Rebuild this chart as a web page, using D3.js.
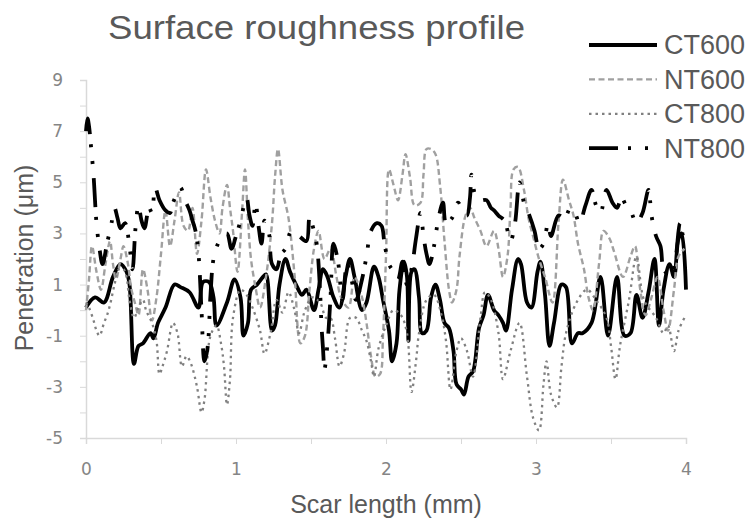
<!DOCTYPE html>
<html>
<head>
<meta charset="utf-8">
<script src="https://cdn.jsdelivr.net/npm/d3@7/dist/d3.min.js"></script>
<style>
  body { margin: 0; background: #fff; }
  text { font-family: "Liberation Sans", Arial, sans-serif; }
  .tick text { font-family: "DejaVu Sans", Verdana, sans-serif; }
</style>
</head>
<body>
<div id="chart"></div>
<script>
// [scar length (mm), penetration (um)]
var ct600 = [[0.00,0.1],[0.06,0.5],[0.12,0.3],[0.18,1.3],[0.23,1.8],[0.27,1.5],[0.29,1.0],[0.32,-2.1],[0.35,-1.4],
  [0.38,-1.3],[0.43,-0.9],[0.45,-1.1],[0.48,-0.5],[0.53,0.1],[0.59,1.0],[0.63,0.9],[0.69,0.7],[0.75,0.1],[0.78,1.1],
  [0.82,1.1],[0.85,0.5],[0.87,-0.6],[0.94,0.3],[0.99,1.2],[1.03,0.5],[1.05,-1.0],[1.08,-0.5],[1.10,0.8],[1.14,1.0],
  [1.18,1.3],[1.20,1.4],[1.24,-0.8],[1.26,-0.6],[1.29,1.0],[1.33,2.0],[1.36,1.5],[1.40,1.0],[1.44,0.6],[1.47,0.8],
  [1.52,0.0],[1.55,0.8],[1.58,1.6],[1.61,1.3],[1.65,0.5],[1.69,0.1],[1.73,1.3],[1.76,2.0],[1.79,1.3],[1.84,0.0],
  [1.87,0.3],[1.92,1.7],[1.95,1.3],[1.98,0.4],[2.02,-0.8],[2.04,-2.0],[2.07,-1.3],[2.09,0.8],[2.12,1.9],[2.14,1.3],
  [2.15,-1.2],[2.17,1.5],[2.19,1.6],[2.22,0.5],[2.24,-0.9],[2.27,-0.8],[2.30,0.5],[2.33,1.0],[2.36,0.4],[2.39,-0.5],
  [2.42,-0.7],[2.45,-1.6],[2.47,-2.9],[2.50,-3.1],[2.52,-3.3],[2.55,-2.6],[2.58,-2.4],[2.62,-0.7],[2.65,-0.2],
  [2.68,0.6],[2.72,0.0],[2.75,-0.2],[2.78,-0.5],[2.80,-0.8],[2.84,0.8],[2.88,2.0],[2.90,1.8],[2.94,0.3],[2.97,0.1],
  [3.01,1.5],[3.03,1.9],[3.06,0.6],[3.09,-1.4],[3.12,-0.5],[3.17,1.0],[3.20,0.9],[3.24,-1.3],[3.28,-0.9],[3.31,-0.9],
  [3.37,-0.5],[3.43,1.3],[3.48,-1.0],[3.54,1.3],[3.59,-1.0],[3.63,-0.9],[3.67,0.6],[3.71,-0.3],[3.75,0.7],[3.79,2.0],
  [3.82,-0.6],[3.85,0.8],[3.89,1.8],[3.92,1.3],[3.95,2.8],[3.97,3.0],[4.00,0.8]];

var nt600 = [[0.00,0.0],[0.02,1.2],[0.04,2.5],[0.07,1.5],[0.10,0.8],[0.13,1.8],[0.16,2.7],[0.18,1.8],[0.20,1.2],
  [0.23,2.0],[0.25,2.5],[0.28,1.8],[0.30,0.9],[0.33,0.2],[0.35,-0.2],[0.38,1.6],[0.41,0.8],[0.44,-0.4],[0.47,0.5],
  [0.50,2.2],[0.53,3.9],[0.56,2.5],[0.59,3.5],[0.62,4.6],[0.65,3.3],[0.68,3.1],[0.71,4.0],[0.74,2.2],[0.77,3.5],
  [0.80,5.5],[0.83,4.4],[0.86,3.5],[0.89,3.0],[0.91,4.0],[0.94,4.9],[0.96,4.0],[0.98,3.1],[1.01,1.5],[1.04,3.8],
  [1.06,5.5],[1.08,3.5],[1.10,2.0],[1.13,0.9],[1.16,0.1],[1.20,1.3],[1.24,3.4],[1.26,5.2],[1.28,6.3],[1.31,4.7],
  [1.35,3.6],[1.39,1.4],[1.43,-1.3],[1.46,-1.0],[1.49,0.8],[1.52,2.4],[1.55,3.1],[1.59,2.0],[1.63,2.4],[1.67,1.3],
  [1.70,0.5],[1.75,0.1],[1.79,1.3],[1.84,0.5],[1.87,-0.5],[1.90,-1.8],[1.93,-2.6],[1.96,-2.5],[1.98,-1.0],[2.00,2.1],
  [2.02,5.5],[2.05,4.9],[2.08,4.3],[2.11,5.3],[2.13,6.1],[2.16,5.2],[2.19,4.1],[2.23,4.2],[2.25,5.3],[2.27,6.3],
  [2.30,6.3],[2.33,6.1],[2.36,4.9],[2.39,2.7],[2.42,0.8],[2.44,0.3],[2.47,0.8],[2.49,2.1],[2.53,3.7],[2.56,4.0],
  [2.59,3.6],[2.63,3.1],[2.67,2.5],[2.72,3.1],[2.75,2.4],[2.78,1.3],[2.81,2.1],[2.83,4.0],[2.85,5.5],[2.88,5.6],
  [2.92,4.7],[2.95,3.6],[2.98,2.9],[3.02,2.0],[3.06,1.3],[3.11,0.3],[3.15,3.4],[3.18,5.1],[3.22,4.3],[3.25,3.7],
  [3.28,2.6],[3.32,1.6],[3.35,0.5],[3.38,0.0],[3.42,1.8],[3.45,3.1],[3.49,2.8],[3.52,2.3],[3.58,1.3],[3.63,2.1],
  [3.66,2.5],[3.69,1.0],[3.73,-0.2],[3.77,0.5],[3.81,1.3],[3.85,0.0],[3.88,-0.8],[3.92,0.8],[3.95,2.1],[3.99,2.4]];

var ct800 = [[0.00,0.3],[0.02,0.1],[0.05,-0.4],[0.07,-0.8],[0.09,-1.0],[0.12,-0.5],[0.14,-0.2],[0.16,0.2],[0.19,1.0],
  [0.22,1.6],[0.25,1.6],[0.27,1.3],[0.29,0.4],[0.32,-0.3],[0.35,0.1],[0.38,0.4],[0.40,0.0],[0.44,-0.5],[0.47,-1.2],
  [0.49,-2.5],[0.51,-2.2],[0.54,-1.6],[0.58,-0.5],[0.61,-0.9],[0.64,-2.2],[0.67,-1.8],[0.70,-2.1],[0.74,-3.0],
  [0.77,-4.0],[0.79,-3.5],[0.83,-1.0],[0.87,-0.6],[0.90,-1.3],[0.92,-2.2],[0.94,-3.7],[0.96,-2.7],[0.98,-0.3],
  [1.03,0.8],[1.07,0.6],[1.11,0.1],[1.16,-0.8],[1.19,-1.7],[1.23,-0.9],[1.27,0.4],[1.31,-0.1],[1.35,0.7],[1.39,0.0],
  [1.42,-0.9],[1.46,0.0],[1.51,0.5],[1.56,0.3],[1.60,-0.3],[1.63,-0.3],[1.66,-1.1],[1.69,-2.2],[1.72,-1.7],
  [1.76,-0.3],[1.80,-0.3],[1.84,-0.8],[1.87,-1.2],[1.90,-2.0],[1.92,-2.6],[1.95,-1.5],[2.00,-0.6],[2.05,0.0],
  [2.10,-0.2],[2.14,-0.9],[2.17,-3.2],[2.20,-2.0],[2.22,-0.9],[2.27,0.4],[2.32,0.6],[2.37,-0.2],[2.40,-1.2],
  [2.43,-3.1],[2.47,-1.6],[2.50,-1.1],[2.54,-1.6],[2.58,-2.6],[2.63,-0.3],[2.66,0.7],[2.70,0.4],[2.75,-0.9],
  [2.78,-2.7],[2.83,-1.6],[2.89,-0.5],[2.94,-2.6],[2.98,-4.2],[3.02,-4.7],[3.05,-2.9],[3.07,-2.0],[3.10,-3.3],
  [3.14,-3.8],[3.17,-2.2],[3.20,-0.9],[3.27,0.3],[3.34,0.8],[3.40,0.4],[3.47,-0.3],[3.50,-1.4],[3.53,-2.7],
  [3.56,-1.4],[3.62,0.4],[3.67,2.1],[3.72,0.4],[3.80,-0.3],[3.85,-0.9],[3.88,-0.6],[3.92,-1.6],[3.95,-0.8],[3.99,-0.3]];

var nt800 = [[0.00,7.0],[0.01,7.5],[0.02,7.2],[0.035,6.3],[0.05,5.3],[0.06,4.3],[0.07,3.4],[0.09,2.4],[0.11,1.8],
  [0.14,2.6],[0.17,3.4],[0.19,4.0],[0.21,3.6],[0.23,3.2],[0.26,3.4],[0.29,2.5],[0.31,1.6],[0.33,3.2],[0.35,4.1],
  [0.37,3.5],[0.39,3.2],[0.42,4.0],[0.44,3.8],[0.46,4.8],[0.49,4.3],[0.53,3.9],[0.56,3.8],[0.58,4.2],[0.61,4.6],
  [0.63,4.8],[0.66,4.3],[0.69,3.9],[0.71,3.5],[0.73,3.1],[0.75,2.2],[0.77,0.0],[0.79,-2.0],[0.81,-1.5],[0.83,0.6],
  [0.85,2.0],[0.88,2.6],[0.91,2.9],[0.94,3.0],[0.97,2.4],[1.00,2.9],[1.03,3.5],[1.07,4.4],[1.09,3.7],[1.11,3.3],
  [1.13,4.2],[1.15,3.3],[1.17,2.6],[1.19,3.5],[1.22,3.0],[1.24,1.8],[1.27,1.6],[1.30,2.2],[1.33,2.4],[1.37,3.1],
  [1.42,2.9],[1.47,2.7],[1.49,3.6],[1.52,3.1],[1.54,2.5],[1.56,0.8],[1.57,-0.6],[1.58,-1.5],[1.59,-2.3],[1.61,-1.3],
  [1.63,0.5],[1.65,2.6],[1.68,1.9],[1.71,0.4],[1.74,1.8],[1.77,1.2],[1.80,0.4],[1.84,1.2],[1.87,2.1],[1.90,3.1],
  [1.94,3.4],[1.97,3.3],[1.99,2.6],[2.02,1.8],[2.05,1.5],[2.08,1.2],[2.11,1.9],[2.14,1.0],[2.17,1.6],[2.20,2.8],
  [2.23,3.8],[2.25,2.9],[2.27,2.2],[2.29,1.8],[2.32,2.5],[2.35,3.6],[2.38,4.2],[2.40,3.4],[2.44,3.6],[2.48,4.2],
  [2.52,3.8],[2.54,3.7],[2.56,4.4],[2.57,5.3],[2.59,4.6],[2.62,4.3],[2.67,4.3],[2.70,4.0],[2.72,3.9],[2.75,3.7],
  [2.79,3.5],[2.83,2.7],[2.86,3.4],[2.89,5.0],[2.92,4.2],[2.95,3.8],[2.99,3.1],[3.02,2.4],[3.05,2.6],[3.08,3.4],
  [3.10,2.9],[3.15,3.7],[3.19,3.6],[3.23,4.0],[3.26,3.8],[3.29,3.4],[3.33,4.1],[3.37,4.7],[3.40,4.1],[3.43,3.8],
  [3.47,4.7],[3.51,4.2],[3.54,4.0],[3.57,4.4],[3.60,4.1],[3.63,3.9],[3.67,3.4],[3.71,3.8],[3.75,4.7],[3.77,3.7],
  [3.80,2.9],[3.83,2.5],[3.85,1.6],[3.88,1.4],[3.90,1.3],[3.93,2.0],[3.96,3.4],[3.98,2.9],[4.00,2.5]];

var seriesNames = ["CT600", "NT600", "CT800", "NT800"];
var xTicks = [0, 0.5, 1, 1.5, 2, 2.5, 3, 3.5, 4];
var yTicks = [-5, -4, -3, -2, -1, 0, 1, 2, 3, 4, 5, 6, 7, 8, 9];

// line look for each series, same order as seriesNames
var styles = [
  {color: "#000", width: 3.8, dash: null},
  {color: "#a0a0a0", width: 2.4, dash: "6,3.5"},
  {color: "#808080", width: 2.3, dash: "2.5,4"},
  {color: "#000", width: 3.8, dash: "29,10,3,14,3,14"}
];
var allData = [ct600, nt600, ct800, nt800];

var W = 752, H = 524;
var svg = d3.select("#chart").append("svg")
    .attr("width", W)
    .attr("height", H);

var x = d3.scaleLinear().domain([0, 4]).range([86, 686]);
var y = d3.scaleLinear().domain([-5, 9]).range([438, 80]);

// axes
svg.append("g")
    .attr("transform", "translate(0," + y(-5) + ")")
    .call(d3.axisBottom(x).tickValues(xTicks).tickSize(6).tickPadding(19)
      .tickFormat(function(d) { return d % 1 === 0 ? d : ""; }));

svg.append("g")
    .attr("transform", "translate(" + x(0) + ",0)")
    .call(d3.axisLeft(y).tickValues(yTicks).tickSize(6).tickPadding(17)
      .tickFormat(function(d) { return Math.abs(d % 2) === 1 ? d : ""; }));

svg.selectAll(".domain").attr("stroke", "#d9d9d9").attr("stroke-width", 1.5);
svg.selectAll(".tick line").attr("stroke", "#d9d9d9").attr("stroke-width", 1);
svg.selectAll(".tick text").attr("fill", "#858585").attr("font-size", 17);

// series lines
var line = d3.line()
    .x(function(d) { return x(d[0]); })
    .y(function(d) { return y(d[1]); })
    .curve(d3.curveCatmullRom.alpha(0.5));

allData.forEach(function(data, i) {
  svg.append("path")
      .datum(data)
      .attr("d", line)
      .attr("fill", "none")
      .attr("stroke", styles[i].color)
      .attr("stroke-width", styles[i].width)
      .attr("stroke-dasharray", styles[i].dash)
      .attr("stroke-linejoin", "round");
});

// title
svg.append("text")
    .text("Surface roughness profile")
    .attr("x", 108)
    .attr("y", 39)
    .attr("font-size", 33)
    .attr("textLength", 417)
    .attr("lengthAdjust", "spacingAndGlyphs")
    .attr("fill", "#595959");

// axis titles
svg.append("text")
    .text("Scar length (mm)")
    .attr("x", 386)
    .attr("y", 513)
    .attr("text-anchor", "middle")
    .attr("font-size", 25)
    .attr("fill", "#595959");

svg.append("text")
    .text("Penetration (\u03bcm)")
    .attr("transform", "translate(33,258) rotate(-90)")
    .attr("text-anchor", "middle")
    .attr("font-size", 25)
    .attr("fill", "#595959");

// legend
var legend = svg.append("g");
seriesNames.forEach(function(name, i) {
  var ly = 45 + i * 34.4;
  legend.append("line")
      .attr("x1", 589).attr("x2", 657)
      .attr("y1", ly).attr("y2", ly)
      .attr("stroke", styles[i].color)
      .attr("stroke-width", styles[i].width)
      .attr("stroke-dasharray", styles[i].dash);
  legend.append("text")
      .text(name)
      .attr("x", 664)
      .attr("y", ly)
      .attr("dy", "0.35em")
      .attr("font-size", 27)
      .attr("fill", "#595959");
});
</script>
</body>
</html>
